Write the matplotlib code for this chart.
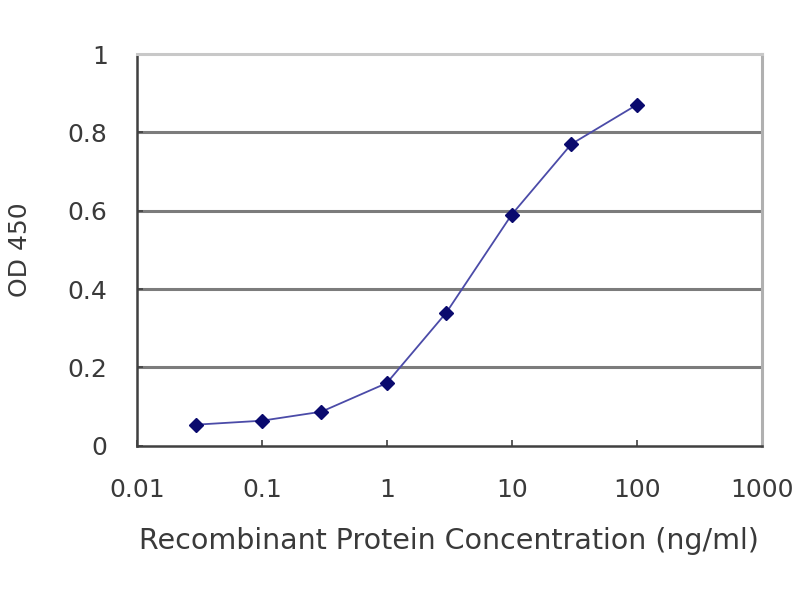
import matplotlib
matplotlib.use("Agg")
import matplotlib.pyplot as plt

# data
conc = [0.03, 0.1, 0.3, 1, 3, 10, 30, 100]
od450 = [0.054, 0.064, 0.087, 0.16, 0.34, 0.59, 0.77, 0.87]

x_ticks = [0.01, 0.1, 1, 10, 100, 1000]
x_labels = ["0.01", "0.1", "1", "10", "100", "1000"]
y_ticks = [0, 0.2, 0.4, 0.6, 0.8, 1]
y_labels = ["0", "0.2", "0.4", "0.6", "0.8", "1"]

# wide sans face, closest to the stretched Arial of the reference
plt.rcParams["font.family"] = ["DejaVu Sans"]
TXT = "#3a3a3a"

fig = plt.figure(figsize=(8, 6), dpi=100)
ax = fig.add_axes([0.171, 0.257, 0.781, 0.653])

ax.set_xscale("log")
ax.set_xlim(0.01, 1000)
ax.set_ylim(0, 1)

# horizontal gridlines
for y in y_ticks[1:-1]:
    ax.axhline(y, color="#7c7c7c", lw=2.2, zorder=1)

ax.plot(conc, od450, color="#4b4ba8", lw=1.3, zorder=2)
ax.plot(conc, od450, linestyle="none", marker="D", markersize=7.5,
        color="#0a0a6e", zorder=3)

ax.spines["left"].set_color("#404040")
ax.spines["bottom"].set_color("#404040")
ax.spines["left"].set_linewidth(1.8)
ax.spines["bottom"].set_linewidth(1.8)
ax.spines["top"].set_color("#c8c8c8")
ax.spines["right"].set_color("#b0b0b0")
ax.spines["top"].set_linewidth(2.2)
ax.spines["right"].set_linewidth(2.2)

ax.set_xticks(x_ticks)
ax.set_xticklabels(x_labels)
ax.minorticks_off()
ax.set_yticks(y_ticks)
ax.set_yticklabels(y_labels)
ax.tick_params(axis="both", labelsize=18, labelcolor=TXT, color="#404040",
               length=4, width=1.2, direction="in")
ax.tick_params(axis="x", pad=23)
ax.tick_params(axis="y", pad=21)

ax.set_xlabel("Recombinant Protein Concentration (ng/ml)", fontsize=20.5,
              color=TXT, va="center")
ax.xaxis.set_label_coords(0.5, -0.242)
ax.set_ylabel("OD 450", fontsize=18, color=TXT, va="center")
ax.yaxis.set_label_coords(-0.187, 0.5)

fig.savefig("out.png", dpi=100)
